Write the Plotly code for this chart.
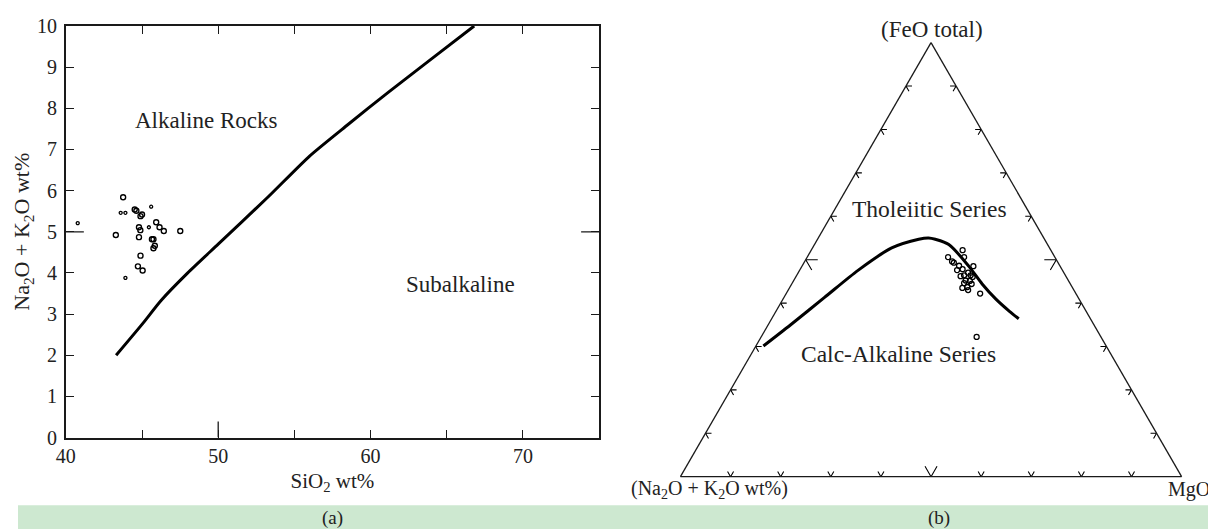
import plotly.graph_objects as go

# ---------------- data: (a) TAS diagram ----------------
sio2_open = [43.76, 43.28, 44.52, 44.63, 44.90, 45.00, 44.80, 44.89, 45.93, 46.15,
             46.43, 47.51, 44.80, 45.65, 45.75, 45.84, 45.75, 44.90, 44.73, 45.04]
alk_open = [5.84, 4.92, 5.54, 5.51, 5.38, 5.42, 5.11, 5.04, 5.23, 5.11,
            5.02, 5.02, 4.87, 4.82, 4.82, 4.66, 4.60, 4.42, 4.16, 4.06]
sio2_dot = [40.78, 43.60, 43.91, 45.60, 45.45, 43.91]
alk_dot = [5.21, 5.46, 5.46, 5.61, 5.11, 3.88]

div_sio2 = [43.3, 45.0, 46.25, 48.0, 50.0, 53.2, 56.0, 58.5, 61.2, 64.0, 66.8]
div_alk = [2.0, 2.75, 3.33, 4.0, 4.7, 5.82, 6.84, 7.6, 8.4, 9.2, 10.0]

x_tickvals = [40, 45, 50, 55, 60, 65, 70, 75]
x_ticktext = ["40", "", "50", "", "60", "", "70", ""]
y_tickvals = [0, 1, 2, 3, 4, 5, 6, 7, 8, 9, 10]
X_RANGE = [40, 75]
Y_RANGE = [0, 10]
LONG_X_TICK = 50
LONG_Y_TICK = 5

# ---------------- data: (b) AFM diagram ----------------
afm_feo = [52.2, 50.6, 50.6, 49.3, 48.6, 48.5, 47.6, 47.8, 47.0, 46.4, 46.2, 46.4,
           46.0, 45.2, 45.1, 44.6, 44.4, 43.7, 43.5, 43.0, 42.2, 32.2, 49.6]
afm_alk = [17.6, 21.3, 18.1, 20.8, 20.1, 17.3, 21.0, 19.8, 19.1, 18.9, 21.0, 20.2,
           18.7, 20.5, 19.7, 21.1, 19.7, 20.9, 22.0, 21.1, 19.1, 24.8, 21.0]
afm_mgo = [30.2, 28.1, 31.3, 29.9, 31.3, 34.2, 31.4, 32.4, 33.9, 34.7, 32.8, 33.4,
           35.3, 34.3, 35.2, 34.3, 35.9, 35.4, 34.5, 35.9, 38.7, 43.0, 29.4]

curve_feo = [30.1, 35.0, 41.3, 47.6, 52.7, 54.7, 55.0, 54.7, 53.5, 48.4, 44.4, 40.9, 38.1, 36.4]
curve_alk = [68.4, 60.5, 50.6, 40.7, 31.5, 25.1, 23.0, 21.8, 19.7, 18.2, 17.6, 16.6, 15.3, 14.3]
curve_mgo = [1.5, 4.5, 8.1, 11.7, 15.8, 20.2, 22.0, 23.5, 26.8, 33.4, 38.0, 42.5, 46.6, 49.3]

tern_ticks = [10, 20, 30, 40, 50, 60, 70, 80, 90]
TERN_SUM = 100

# ---------------- layout helpers ----------------
W, H = 1216, 533
# mapping from figure pixels to the photographed picture (measured with a frame): pic = O + S * fig
OX, SX, OY, SY = 16.0, 0.995, 16.0, 0.962
FONT = "Liberation Serif"
INK = "#1a1a1a"
TXT = "#222222"


def fx(X):
    return (X - OX) / SX


def fy(Y):
    return (Y - OY) / SY


def px(X):
    return fx(X) / W


def py(Y):
    return 1 - fy(Y) / H


fig = go.Figure()

fig.add_trace(go.Scatter(x=div_sio2, y=div_alk, mode="lines",
                         line=dict(color="black", width=3, shape="spline", smoothing=0.6),
                         hoverinfo="skip"))
fig.add_trace(go.Scatter(x=sio2_open, y=alk_open, mode="markers",
                         marker=dict(symbol="circle-open", size=5, color="black",
                                     line=dict(width=1.4, color="black"))))
fig.add_trace(go.Scatter(x=sio2_dot, y=alk_dot, mode="markers",
                         marker=dict(symbol="circle-open", size=3, color="black",
                                     line=dict(width=1.3, color="black"))))

ta, tb, tc = [], [], []
for t in tern_ticks:
    L = 2.4 if t == 50 else 1.2
    # bottom side (FeO = 0)
    ta += [L, 0, L, None]
    tb += [TERN_SUM - t - L, TERN_SUM - t, TERN_SUM - t, None]
    tc += [t, t, t - L, None]
    # left side (MgO = 0)
    ta += [t, t, t - L, None]
    tb += [TERN_SUM - t - L, TERN_SUM - t, TERN_SUM - t, None]
    tc += [L, 0, L, None]
    # right side (alkali = 0)
    ta += [t, t, t - L, None]
    tb += [L, 0, L, None]
    tc += [TERN_SUM - t - L, TERN_SUM - t, TERN_SUM - t, None]

fig.add_trace(go.Scatterternary(a=ta, b=tb, c=tc, mode="lines", subplot="ternary",
                                line=dict(color="black", width=1.1), hoverinfo="skip"))
fig.add_trace(go.Scatterternary(a=curve_feo, b=curve_alk, c=curve_mgo, mode="lines",
                                subplot="ternary",
                                line=dict(color="black", width=3, shape="spline", smoothing=0.8)))
fig.add_trace(go.Scatterternary(a=afm_feo, b=afm_alk, c=afm_mgo, mode="markers",
                                subplot="ternary",
                                marker=dict(symbol="circle-open", size=5, color="black",
                                            line=dict(width=1.3, color="black"))))

axis_common = dict(showline=True, linecolor=INK, linewidth=1.6, mirror="ticks",
                   ticks="inside", ticklen=8, tickwidth=1.3, tickcolor=INK,
                   showgrid=False, zeroline=False,
                   tickfont=dict(family=FONT, size=20, color=TXT))

tern_axis = dict(showline=True, linecolor=INK, linewidth=1.3, showgrid=False,
                 ticks="", showticklabels=False, title=dict(text=""))

# triangle in picture pixels: centre x 932, apex ~47, base ~468
tri_cx = fx(932)
tri_cy = (fy(47) + fy(468)) / 2
tri_h = fy(468) - fy(47)
tri_half = tri_h / 3 ** 0.5
fig.update_layout(
    width=W, height=H,
    autosize=False,
    margin=dict(l=0, r=0, t=0, b=0),
    paper_bgcolor="white", plot_bgcolor="white",
    showlegend=False,
    font=dict(family=FONT, size=18, color=TXT),
    xaxis=dict(domain=[px(64), px(599)], range=X_RANGE, tickmode="array",
               tickvals=x_tickvals, ticktext=x_ticktext, ticklabelstandoff=0,
               title=dict(text="SiO<sub>2</sub> wt%", font=dict(family=FONT, size=21, color=TXT),
                          standoff=7),
               **axis_common),
    yaxis=dict(domain=[py(436), py(23)], range=Y_RANGE, tickmode="array",
               tickvals=y_tickvals, ticklabelstandoff=3, ticklabeloverflow="allow",
               title=dict(text="Na<sub>2</sub>O + K<sub>2</sub>O wt%",
                          font=dict(family=FONT, size=22, color=TXT), standoff=1),
               **axis_common),
    ternary=dict(
        domain=dict(x=[(tri_cx - tri_half) / W, (tri_cx + tri_half) / W],
                    y=[1 - (tri_cy + 245) / H, 1 - (tri_cy - 245) / H]),
        sum=TERN_SUM,
        bgcolor="white",
        aaxis=tern_axis, baxis=tern_axis, caxis=tern_axis,
    ),
)

tick_line = dict(color=INK, width=1.3)
fig.add_shape(type="line", xref="x", yref="y", x0=LONG_X_TICK, x1=LONG_X_TICK,
              ysizemode="pixel", yanchor=Y_RANGE[0], y0=0, y1=16, line=tick_line)
fig.add_shape(type="line", xref="x", yref="y", y0=LONG_Y_TICK, y1=LONG_Y_TICK,
              xsizemode="pixel", xanchor=X_RANGE[0], x0=0, x1=18, line=tick_line)
fig.add_shape(type="line", xref="x", yref="y", y0=LONG_Y_TICK, y1=LONG_Y_TICK,
              xsizemode="pixel", xanchor=X_RANGE[1], x0=-18, x1=0, line=tick_line)

# caption band
fig.add_shape(type="rect", xref="paper", yref="paper", x0=0, x1=1, y0=0, y1=py(504),
              fillcolor="#cde8d0", line=dict(width=0), layer="below")

annotations = [
    dict(text="Alkaline Rocks", x=49.2, y=7.7, xref="x", yref="y", size=23),
    dict(text="Subalkaline", x=65.9, y=3.73, xref="x", yref="y", size=23),
    dict(text="(FeO total)", x=px(933), y=py(27), xref="paper", yref="paper", size=23),
    dict(text="Tholeiitic Series", x=px(930), y=py(207), xref="paper", yref="paper", size=23.5),
    dict(text="Calc-Alkaline Series", x=px(899), y=py(352), xref="paper", yref="paper", size=23.5),
    dict(text="(Na<sub>2</sub>O + K<sub>2</sub>O wt%)", x=px(710), y=py(488),
         xref="paper", yref="paper", size=20),
    dict(text="(a)", x=px(332), y=py(517), xref="paper", yref="paper", size=19),
    dict(text="(b)", x=px(940), y=py(517), xref="paper", yref="paper", size=19),
]
for a in annotations:
    size = a.pop("size")
    fig.add_annotation(showarrow=False, font=dict(family=FONT, size=size, color=TXT),
                       xanchor="center", yanchor="middle", **a)
fig.add_annotation(text="MgO", x=px(1214), y=py(488), xref="paper", yref="paper",
                   showarrow=False, xanchor="right", yanchor="middle",
                   font=dict(family=FONT, size=20, color=TXT))

fig.write_html("out.html", config={"displayModeBar": False})
